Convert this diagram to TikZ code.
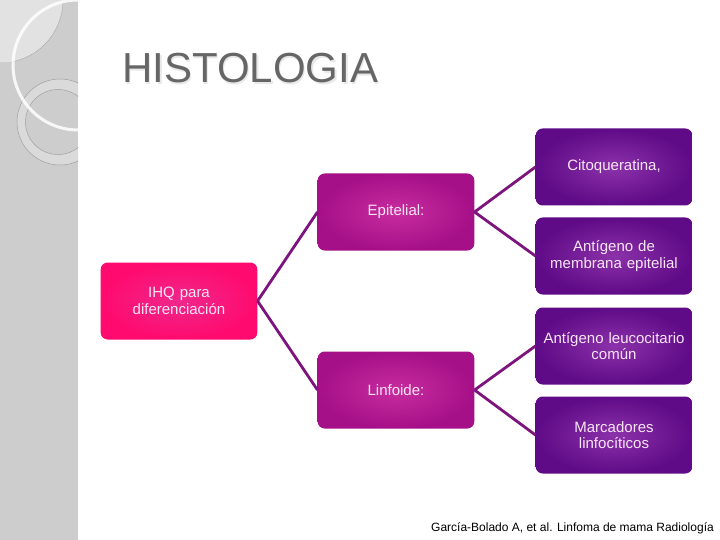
\documentclass[tikz,border=0pt]{standalone}
\usepackage{fontspec}
\setmainfont{Liberation Sans}
\definecolor{stripgray}{RGB}{205,205,205}
\definecolor{lightgray2}{RGB}{226,226,226}
\definecolor{ringgray}{RGB}{218,218,218}
\definecolor{titlegray}{RGB}{102,102,102}
\definecolor{rootin}{RGB}{240,40,140}
\definecolor{rootout}{RGB}{255,10,110}
\definecolor{midin}{RGB}{200,45,160}
\definecolor{midout}{RGB}{165,15,135}
\definecolor{leafin}{RGB}{140,50,170}
\definecolor{leafout}{RGB}{95,10,135}
\definecolor{linkcol}{RGB}{125,20,125}
\definecolor{boxtext}{RGB}{248,230,245}
\tikzset{
  box/.style={rectangle, rounded corners=7pt, minimum width=156pt, minimum height=77pt,
    text width=150pt, align=center, font=\fontsize{15}{16.5}\selectfont, text=boxtext},
  rootbox/.style={box, inner color=rootin, outer color=rootout},
  midbox/.style={box, inner color=midin, outer color=midout},
  leafbox/.style={box, inner color=leafin, outer color=leafout},
  link/.style={draw=linkcol, line width=2.8pt}
}
\begin{document}
\begin{tikzpicture}[x=1pt,y=-1pt]
\useasboundingbox (0,0) rectangle (720,540);
\fill[white] (0,0) rectangle (720,540);
% left decorative strip
\fill[stripgray] (0,0) rectangle (78,540);
\begin{scope}
  \clip (0,0) rectangle (78,540);
  \begin{scope}
    \clip (0,0) rectangle (63,62);
    \fill[lightgray2] (0,0) circle (63);
  \end{scope}
  \draw[gray!70, line width=0.4pt] (63,0) arc[start angle=0, end angle=80, radius=63];
  \fill[ringgray, even odd rule] (60,122) circle (43) (58,122) circle (32.5);
  \draw[gray!75, line width=0.5pt] (60,122) circle (43);
  \draw[gray!75, line width=0.5pt] (58,122) circle (32.5);
  \draw[white, opacity=0.85, line width=3pt] (78,65) circle (65);
\end{scope}
% title
\node[anchor=base west, text=gray!18, font=\fontsize{42}{42}\selectfont, inner sep=0pt] at (123.5,84.5) {HISTOLOGIA};
\node[anchor=base west, text=titlegray, font=\fontsize{42}{42}\selectfont, inner sep=0pt] (title) at (122,83) {HISTOLOGIA};
% nodes
\node[rootbox] (root) at (179,301) {IHQ para\\diferenciación};
\node[midbox] (epi) at (396,212) {Epitelial:};
\node[midbox] (lin) at (396,390) {Linfoide:};
\node[leafbox] (cito) at (614,167) {Citoqueratina,};
\node[leafbox] (ame) at (614,256) {Antígeno de\\membrana epitelial};
\node[leafbox] (alc) at (614,346) {Antígeno leucocitario\\común};
\node[leafbox] (marc) at (614,435) {Marcadores\\linfocíticos};
% links
\draw[link] (root.east) -- (epi.west);
\draw[link] (root.east) -- (lin.west);
\draw[link] (epi.east) -- (cito.west);
\draw[link] (epi.east) -- (ame.west);
\draw[link] (lin.east) -- (alc.west);
\draw[link] (lin.east) -- (marc.west);
% footer
\node[anchor=base east, font=\fontsize{12}{13}\selectfont, inner sep=0pt] (foot) at (714,531) {García-Bolado A, et al. Linfoma de mama Radiología};
\end{tikzpicture}
\end{document}
